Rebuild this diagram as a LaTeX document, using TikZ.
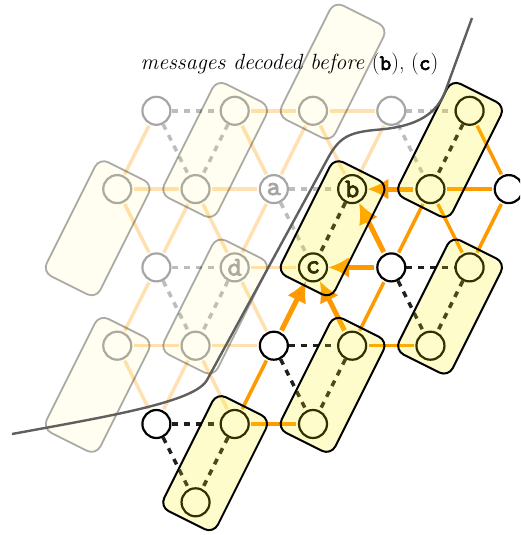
\documentclass[tikz,border=0pt]{standalone}
\usepackage{fontspec}
\newfontfamily\labfont{lmmono10-regular.otf}[FakeBold=3]
\usetikzlibrary{arrows.meta}
\definecolor{orng}{RGB}{255,153,0}
\definecolor{curvegray}{RGB}{95,95,95}
\pgfdeclarelayer{edges}
\pgfdeclarelayer{boxes}
\pgfsetlayers{edges,main,boxes}
\tikzset{
  vtx/.style={circle, minimum size=28pt, inner sep=0pt, line width=2.2pt, draw=black, fill=white,
    font=\labfont\fontsize{27}{27}\selectfont},
  fvtx/.style={vtx, draw=black!35, text=black!35},
  oedge/.style={draw=orng, line width=3.5pt, shorten <=1.5pt, shorten >=1.5pt},
  foedge/.style={oedge, draw opacity=0.3},
  dedge/.style={draw=black!88, line width=3.5pt, dash pattern=on 6pt off 6pt},
  fdedge/.style={dedge, draw=black!26},
  oarrow/.style={draw=orng, line width=5pt, -{Latex[length=21pt,width=21pt]}, shorten <=2pt},
  pairbox/.style={rectangle, rounded corners=10pt, minimum width=127.5pt, minimum height=60pt,
    rotate=63.435, draw=black, line width=2pt, fill=yellow, fill opacity=0.2},
  fpairbox/.style={pairbox, draw opacity=0.33, fill opacity=0.06, line width=1.8pt},
  boundary/.style={draw=curvegray, line width=2.4pt},
}
\begin{document}
\begin{tikzpicture}[x=1pt, y=-1pt]
\useasboundingbox (0,0) rectangle (520,535);
\clip (0,0) rectangle (520,535);
\begin{scope}[shift={(313,110.8)}, x=39.15pt, y=-78.3pt]
  % faded nodes
  \node[fvtx] (A0) at (-4,0) {};
  \node[fvtx] (A1) at (-2,0) {};
  \node[fvtx] (A2) at (0,0) {};
  \node[fvtx] (A3) at (2,0) {};
  \node[fvtx] (B0) at (-5,1) {};
  \node[fvtx] (B1) at (-3,1) {};
  \node[fvtx] (a) at (-1,1) {a};
  \node[fvtx] (C0) at (-4,2) {};
  \node[fvtx] (d) at (-2,2) {d};
  \node[fvtx] (D0) at (-5,3) {};
  \node[fvtx] (D1) at (-3,3) {};
  % bold nodes
  \node[vtx] (A4) at (4,0) {};
  \node[vtx] (b) at (1,1) {b};
  \node[vtx] (B4) at (3,1) {};
  \node[vtx] (B5) at (5,1) {};
  \node[vtx] (c) at (0,2) {c};
  \node[vtx] (C3) at (2,2) {};
  \node[vtx] (C4) at (4,2) {};
  \node[vtx] (D2) at (-1,3) {};
  \node[vtx] (D3) at (1,3) {};
  \node[vtx] (D4) at (3,3) {};
  \node[vtx] (E0) at (-4,4) {};
  \node[vtx] (E1) at (-2,4) {};
  \node[vtx] (E2) at (0,4) {};
  \node[vtx] (F1) at (-3,5) {};

  \begin{pgfonlayer}{edges}
    % faded orange edges
    \foreach \u/\v in {A1/A2, A2/A3, B0/B1, B1/a, d/c, D0/D1, D1/D2, A0/B0, A1/a, A2/a, A2/b, A3/b,
        B0/C0, B1/C0, B1/d, a/d, C0/D0, d/D2, D0/E0, D1/E0, D1/E1}
      \draw[foedge] (\u) -- (\v);
    % faded dashed edges
    \foreach \u/\v in {A0/A1, A0/B1, A1/B1, A3/A4, A3/B4, a/b, a/c, C0/d, C0/D1, d/D1}
      \draw[fdedge] (\u) -- (\v);
    % bold orange edges
    \foreach \u/\v in {B4/B5, D3/D4, E1/E2, A4/B5, B4/C3, B4/C4, B5/C4, C3/D3, D2/E1}
      \draw[oedge] (\u) -- (\v);
    % bold dashed edges
    \foreach \u/\v in {A4/B4, b/c, C3/C4, C3/D4, C4/D4, D2/D3, D2/E2, D3/E2, E0/E1, E0/F1, E1/F1}
      \draw[dedge] (\u) -- (\v);
    % arrows
    \foreach \u/\v in {B4/b, C3/b, C3/c, D2/c, D3/c}
      \draw[oarrow] (\u) -- (\v);
  \end{pgfonlayer}

  \begin{pgfonlayer}{boxes}
    \node[fpairbox] (fb1) at (-2.5,0.5) {};
    \node[fpairbox] (fb2) at (-5.5,1.5) {};
    \node[fpairbox] (fb3) at (-2.5,2.5) {};
    \node[fpairbox] (fb4) at (-5.5,3.5) {};
    \node[fpairbox] (fb5) at (0.5,-0.5) {};
    \node[pairbox] (bb1) at (3.5,0.5) {};
    \node[pairbox] (bb2) at (0.5,1.5) {};
    \node[pairbox] (bb3) at (3.5,2.5) {};
    \node[pairbox] (bb4) at (0.5,3.5) {};
    \node[pairbox] (bb5) at (-2.5,4.5) {};
  \end{pgfonlayer}
\end{scope}
\begin{pgfonlayer}{boxes}
  \draw[boundary] (12,434) .. controls (110,416) and (195,402) .. (207,380)
    -- (328,158) .. controls (340,136) and (350,132) .. (380,129.5)
    .. controls (420,126) and (437,112) .. (445,92) -- (472,18);
  \node[anchor=base, inner sep=0pt, font=\fontsize{22}{26}\selectfont] (title) at (289.5,70)
    {\itshape messages decoded before \upshape({\labfont b}), ({\labfont c})};
\end{pgfonlayer}
\end{tikzpicture}
\end{document}
